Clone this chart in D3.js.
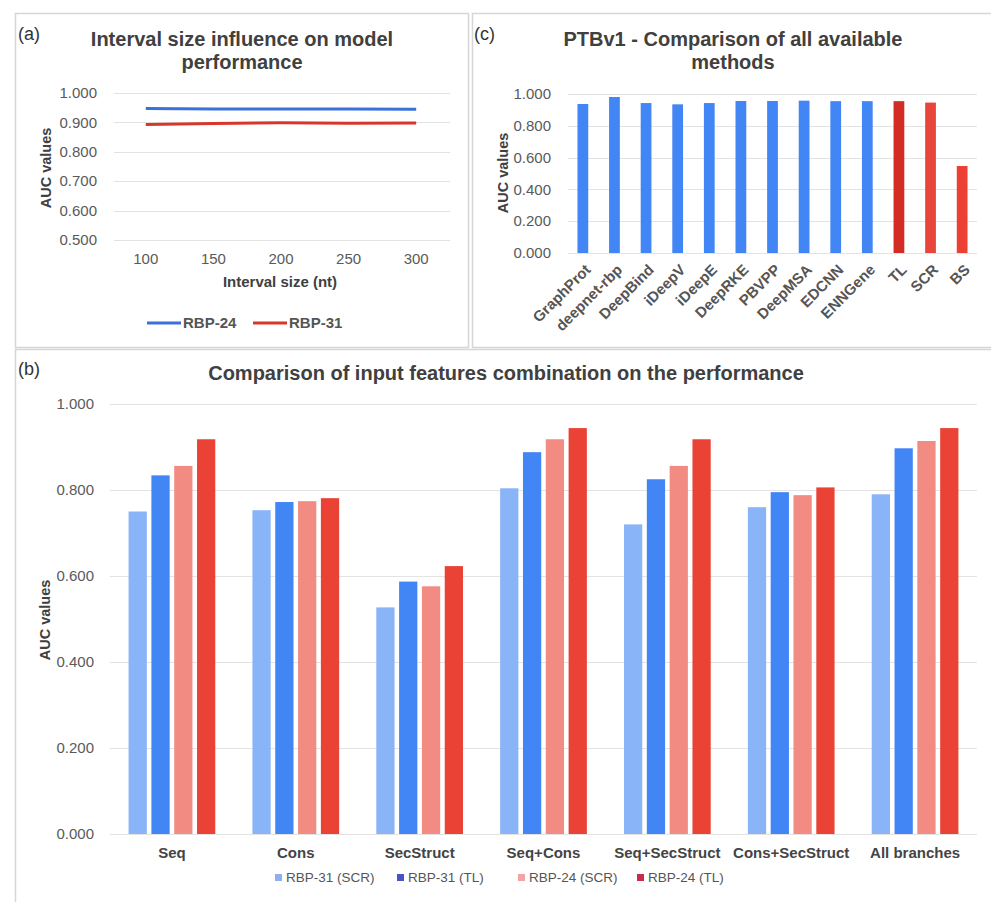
<!DOCTYPE html>
<html>
<head>
<meta charset="utf-8">
<script src="https://cdn.jsdelivr.net/npm/d3@7"></script>
<style>
  html, body { margin: 0; padding: 0; background: #fff; }
  svg { display: block; font-family: "Liberation Sans", Arial, sans-serif; }
</style>
</head>
<body>
<svg id="chart" width="991" height="902"></svg>
<script>
// ---------- Data ----------
// Panel (a)
const intervalSizes = [100, 150, 200, 250, 300];
const rbp24Interval = [0.947, 0.946, 0.946, 0.946, 0.945];
const rbp31Interval = [0.893, 0.896, 0.899, 0.897, 0.898];
const aTicks = [0.5, 0.6, 0.7, 0.8, 0.9, 1.0];

// Panel (c)
const methods = ["GraphProt", "deepnet-rbp", "DeepBind", "iDeepV", "iDeepE", "DeepRKE", "PBVPP", "DeepMSA", "EDCNN", "ENNGene", "TL", "SCR", "BS"];
const methodAUC = [0.937, 0.981, 0.943, 0.935, 0.943, 0.956, 0.956, 0.958, 0.955, 0.955, 0.955, 0.946, 0.547];
const methodGroup = ["other", "other", "other", "other", "other", "other", "other", "other", "other", "other", "TL", "SCR", "BS"];
const cTicks = [0, 0.2, 0.4, 0.6, 0.8, 1.0];

// Panel (b)
const featureSets = ["Seq", "Cons", "SecStruct", "Seq+Cons", "Seq+SecStruct", "Cons+SecStruct", "All branches"];
const seriesNames = ["RBP-31 (SCR)", "RBP-31 (TL)", "RBP-24 (SCR)", "RBP-24 (TL)"];
const rbp31SCR = [0.750, 0.753, 0.527, 0.804, 0.720, 0.760, 0.790];
const rbp31TL  = [0.834, 0.772, 0.587, 0.888, 0.825, 0.795, 0.897];
const rbp24SCR = [0.856, 0.774, 0.576, 0.918, 0.856, 0.788, 0.914];
const rbp24TL  = [0.918, 0.781, 0.623, 0.944, 0.918, 0.806, 0.944];
const bTicks = [0, 0.2, 0.4, 0.6, 0.8, 1.0];

// ---------- Styles ----------
const titleColor = "#404040";
const tickColor = "#5a5a5a";
const gridColor = "#e3e3e3";
const fmt = d3.format(".3f");

const svg = d3.select("#chart");

// panel frames
const frameColor = "#d6d6d6";
svg.append("rect").attr("x", 15.5).attr("y", 13.5).attr("width", 453).attr("height", 334)
  .attr("fill", "none").attr("stroke", frameColor).attr("stroke-width", 1.5);
svg.append("rect").attr("x", 472.5).attr("y", 13.5).attr("width", 530).attr("height", 334)
  .attr("fill", "none").attr("stroke", frameColor).attr("stroke-width", 1.5);
svg.append("rect").attr("x", 15.5).attr("y", 349.5).attr("width", 990).attr("height", 560)
  .attr("fill", "none").attr("stroke", frameColor).attr("stroke-width", 1.5);

function panelLabel(txt, x, y) {
  svg.append("text").attr("x", x).attr("y", y).text(txt)
    .attr("font-size", 18).attr("fill", "#333");
}
function title(lines, cx, y0, size) {
  lines.forEach((l, i) => {
    svg.append("text").attr("x", cx).attr("y", y0 + i * 23).attr("text-anchor", "middle")
      .attr("font-size", size).attr("font-weight", "bold").attr("fill", titleColor).text(l);
  });
}
function yTitle(cx, cy) {
  svg.append("text").attr("transform", `translate(${cx},${cy}) rotate(-90)`)
    .attr("text-anchor", "middle").attr("dy", "0.35em")
    .attr("font-size", 14.5).attr("font-weight", "bold").attr("fill", titleColor).text("AUC values");
}
function yAxisGrid(g, y, ticks, x0, x1, labelX) {
  g.selectAll(".grid").data(ticks).join("line")
    .attr("x1", x0).attr("x2", x1)
    .attr("y1", d => Math.round(y(d)) + 0.5).attr("y2", d => Math.round(y(d)) + 0.5)
    .attr("stroke", gridColor).attr("stroke-width", 1);
  g.selectAll(".ylab").data(ticks).join("text")
    .attr("x", labelX).attr("y", d => y(d)).attr("dy", "0.35em").attr("text-anchor", "end")
    .attr("font-size", 15).attr("fill", tickColor).text(d => fmt(d));
}

// ---------- Panel (a) ----------
{
  panelLabel("(a)", 18, 40);
  title(["Interval size influence on model", "performance"], 242, 46, 20);
  const g = svg.append("g");
  const y = d3.scaleLinear().domain([0.5, 1.0]).range([240, 93]);
  const x = d3.scalePoint().domain(intervalSizes).range([112, 450]).padding(0.5);
  yAxisGrid(g, y, aTicks, 114, 450, 97);
  g.selectAll(".xlab").data(intervalSizes).join("text")
    .attr("x", d => x(d)).attr("y", 264).attr("text-anchor", "middle")
    .attr("font-size", 15).attr("fill", tickColor).text(d => d);
  svg.append("text").attr("x", 280).attr("y", 287).attr("text-anchor", "middle")
    .attr("font-size", 15).attr("font-weight", "bold").attr("fill", titleColor).text("Interval size (nt)");
  yTitle(46, 168);
  const line = d3.line().x((d, i) => x(intervalSizes[i])).y(d => y(d));
  g.append("path").datum(rbp24Interval).attr("d", line).attr("fill", "none")
    .attr("stroke", "#3c71dc").attr("stroke-width", 3);
  g.append("path").datum(rbp31Interval).attr("d", line).attr("fill", "none")
    .attr("stroke", "#d9362b").attr("stroke-width", 3);
  const leg = [{n: "RBP-24", c: "#3c71dc", x: 147}, {n: "RBP-31", c: "#d9362b", x: 253}];
  leg.forEach(l => {
    svg.append("line").attr("x1", l.x).attr("x2", l.x + 34).attr("y1", 323).attr("y2", 323)
      .attr("stroke", l.c).attr("stroke-width", 3);
    svg.append("text").attr("x", l.x + 36).attr("y", 323).attr("dy", "0.35em")
      .attr("font-size", 15).attr("font-weight", "bold").attr("fill", "#555").text(l.n);
  });
}

// ---------- Panel (c) ----------
{
  panelLabel("(c)", 474, 40);
  title(["PTBv1 - Comparison of all available", "methods"], 733, 46, 20);
  const g = svg.append("g");
  const y = d3.scaleLinear().domain([0, 1]).range([253, 94]);
  const x = d3.scaleBand().domain(methods).range([568, 977]).paddingInner(0.66).paddingOuter(0.3);
  yAxisGrid(g, y, cTicks, 568, 977, 551);
  yTitle(503, 173);
  const colorC = {other: "#4285f4", TL: "#d32c24", SCR: "#e8453c", BS: "#eb4033"};
  g.selectAll(".bar").data(methods).join("rect")
    .attr("x", d => x(d)).attr("width", x.bandwidth())
    .attr("y", (d, i) => y(methodAUC[i])).attr("height", (d, i) => y(0) - y(methodAUC[i]))
    .attr("fill", (d, i) => colorC[methodGroup[i]]);
  g.selectAll(".xlab").data(methods).join("text")
    .attr("transform", d => `translate(${x(d) + x.bandwidth() / 2 + 5},${267}) rotate(-45)`)
    .attr("text-anchor", "end").attr("dy", "0.35em")
    .attr("font-size", 15).attr("font-weight", "bold").attr("fill", "#555").text(d => d);
}

// ---------- Panel (b) ----------
{
  panelLabel("(b)", 18, 375);
  title(["Comparison of input features combination on the performance"], 506, 380, 20);
  const g = svg.append("g");
  const y = d3.scaleLinear().domain([0, 1]).range([834, 404]);
  const x0 = d3.scaleBand().domain(featureSets).range([110, 977]).paddingInner(0.3).paddingOuter(0.15);
  const x1 = d3.scaleBand().domain(seriesNames).range([0, x0.bandwidth()]).paddingInner(0.2);
  yAxisGrid(g, y, bTicks, 110, 977, 94);
  yTitle(45, 620);
  const barColors = ["#8ab4f8", "#4285f4", "#f28b82", "#ea4335"];
  const series = [rbp31SCR, rbp31TL, rbp24SCR, rbp24TL];
  featureSets.forEach((f, i) => {
    const gg = g.append("g").attr("transform", `translate(${x0(f)},0)`);
    gg.selectAll("rect").data(series.map((s, k) => ({k, v: s[i]}))).join("rect")
      .attr("x", d => x1(seriesNames[d.k])).attr("width", x1.bandwidth())
      .attr("y", d => y(d.v)).attr("height", d => y(0) - y(d.v))
      .attr("fill", d => barColors[d.k]);
  });
  g.selectAll(".xlab").data(featureSets).join("text")
    .attr("x", d => x0(d) + x0.bandwidth() / 2).attr("y", 858).attr("text-anchor", "middle")
    .attr("font-size", 15).attr("font-weight", "bold").attr("fill", "#444").text(d => d);
  const legColors = ["#8db0f2", "#4b52c4", "#f4a3a3", "#c92a4d"];
  const legX = [275, 397, 518, 637];
  seriesNames.forEach((n, k) => {
    svg.append("rect").attr("x", legX[k]).attr("y", 874).attr("width", 7).attr("height", 7).attr("fill", legColors[k]);
    svg.append("text").attr("x", legX[k] + 11).attr("y", 877.5).attr("dy", "0.35em")
      .attr("font-size", 13.5).attr("fill", "#555").text(n);
  });
}
</script>
</body>
</html>
